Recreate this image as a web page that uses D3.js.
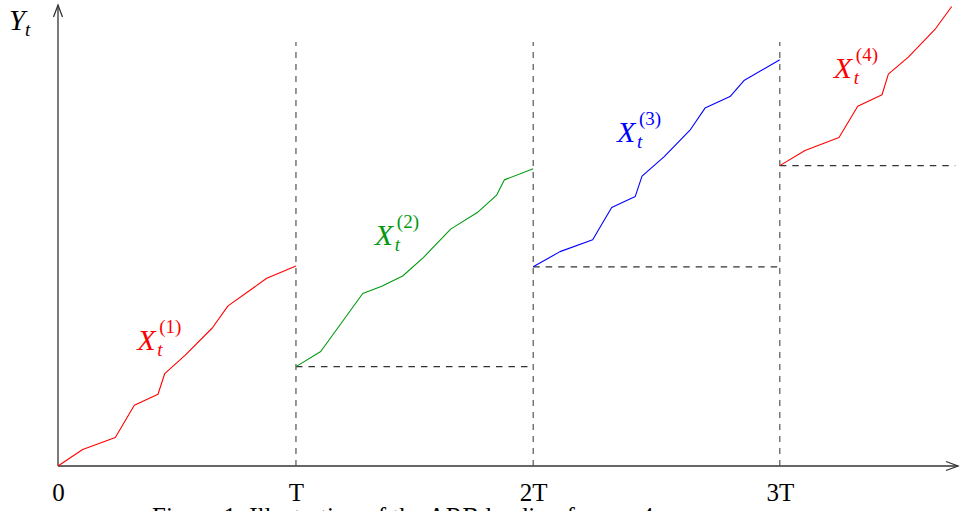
<!DOCTYPE html>
<html>
<head>
<meta charset="utf-8">
<script src="https://cdn.jsdelivr.net/npm/d3@7"></script>
<style>
  html, body { margin: 0; padding: 0; background: #fff; }
  svg { display: block; }
</style>
</head>
<body>
<svg id="chart" width="961" height="511"></svg>
<script>
// Period boundaries on the time axis and their labels
const tickTimes = [0, 26.44, 52.8, 80.2];
const tickLabels = ["0", "T", "2T", "3T"];

// Four successive sample paths, one per period
const t1 = [0, 2.74, 6.37, 8.48, 11.11, 11.86, 14.14, 17.14, 18.89, 23.19, 26.44];
const y1 = [0, 3.6, 6.2, 13.2, 15.6, 20.1, 24.1, 30.0, 34.8, 40.8, 43.5];

const t2 = [26.44, 29.19, 33.86, 35.97, 38.30, 40.59, 43.63, 46.59, 48.74, 49.59, 52.8];
const y2 = [21.6, 24.9, 37.5, 39.1, 41.3, 45.3, 51.5, 55.1, 58.9, 62.2, 64.6];

const t3 = [52.8, 55.78, 59.41, 61.52, 64.14, 64.89, 67.33, 70.22, 71.89, 74.67, 76.22, 80.2];
const y3 = [43.3, 46.6, 49.2, 56.2, 58.6, 63.0, 67.2, 73.0, 77.8, 80.3, 83.8, 88.3];

const t4 = [80.2, 83.0, 86.78, 88.86, 91.56, 92.26, 94.48, 97.52, 99.3];
const y4 = [65.3, 68.6, 71.4, 78.2, 80.7, 85.2, 88.9, 95.1, 99.9];

const seriesNames = ["(1)", "(2)", "(3)", "(4)"];
const seriesColors = ["#ff0000", "#00990f", "#0000ff", "#ff0000"];
// where each X_t^(k) label sits, in data units (time, level)
const labelTimes = [8.8, 35.2, 62.1, 86.2];
const labelLevels = [25.2, 48.0, 70.4, 84.3];

// Levels the dashed guides are drawn at, and how far they run
const guideStart = [26.44, 52.8, 80.2];
const guideEnd = [52.8, 80.2, 99.7];
const guideLevel = [21.6, 43.3, 65.3];
const guideTop = 92.2;

const svg = d3.select("#chart");
const x = d3.scaleLinear().domain([0, 100]).range([58, 958]);
const y = d3.scaleLinear().domain([0, 100]).range([466, 6]);

const serif = "'Liberation Serif', 'Times New Roman', serif";
const axisColor = "#333";

// x axis: no ticks, only labels
const xAxis = d3.axisBottom(x)
  .tickValues(tickTimes)
  .tickSize(0)
  .tickPadding(17)
  .tickFormat((d, i) => tickLabels[i]);
const gx = svg.append("g").attr("transform", `translate(0,${y(0)})`).call(xAxis);
gx.select(".domain").remove();
gx.selectAll("text")
  .attr("font-family", serif)
  .attr("font-size", 25)
  .attr("fill", "#000")
  .attr("dy", "0.71em");

// axis lines with open arrowheads
svg.append("line")
  .attr("x1", x(0)).attr("y1", y(0))
  .attr("x2", x(100)).attr("y2", y(0))
  .attr("stroke", axisColor).attr("stroke-width", 1.3);
svg.append("path")
  .attr("d", `M${x(100) - 12},${y(0) - 4.5} L${x(100)},${y(0)} L${x(100) - 12},${y(0) + 4.5}`)
  .attr("fill", "none").attr("stroke", axisColor).attr("stroke-width", 1.3);

svg.append("line")
  .attr("x1", x(0)).attr("y1", y(0))
  .attr("x2", x(0)).attr("y2", y(100) - 1)
  .attr("stroke", axisColor).attr("stroke-width", 1.3);
svg.append("path")
  .attr("d", `M${x(0) - 4.5},${y(100) + 11} L${x(0)},${y(100) - 1} L${x(0) + 4.5},${y(100) + 11}`)
  .attr("fill", "none").attr("stroke", axisColor).attr("stroke-width", 1.3);

// Y_t axis title
const yTitle = svg.append("g").attr("fill", "#000").attr("font-family", serif).attr("font-style", "italic");
yTitle.append("text").attr("x", 9).attr("y", 30).attr("font-size", 29).text("Y");
yTitle.append("text").attr("x", 25).attr("y", 36).attr("font-size", 19).text("t");

// vertical dashed lines at each period boundary
svg.append("g").selectAll("line")
  .data(tickTimes.slice(1))
  .join("line")
  .attr("x1", d => x(d)).attr("x2", d => x(d))
  .attr("y1", y(0)).attr("y2", y(guideTop))
  .attr("stroke", "#555").attr("stroke-width", 1.2)
  .attr("stroke-dasharray", "6,6");

// horizontal dashed lines at each restart level
svg.append("g").selectAll("line")
  .data(guideLevel)
  .join("line")
  .attr("x1", (d, i) => x(guideStart[i])).attr("x2", (d, i) => x(guideEnd[i]))
  .attr("y1", d => y(d)).attr("y2", d => y(d))
  .attr("stroke", "#333").attr("stroke-width", 1.2)
  .attr("stroke-dasharray", "6.5,6");

// sample paths
const paths = [[t1, y1], [t2, y2], [t3, y3], [t4, y4]];
const line = d3.line().x(d => x(d[0])).y(d => y(d[1]));
svg.append("g").selectAll("path")
  .data(paths)
  .join("path")
  .attr("d", d => line(d3.zip(d[0], d[1])))
  .attr("fill", "none")
  .attr("stroke", (d, i) => seriesColors[i])
  .attr("stroke-width", 1.1)
  .attr("stroke-linejoin", "round");

// X_t^(k) labels
const labels = svg.append("g").selectAll("g")
  .data(seriesNames)
  .join("g")
  .attr("transform", (d, i) => `translate(${x(labelTimes[i])},${y(labelLevels[i])})`)
  .attr("fill", (d, i) => seriesColors[i])
  .attr("font-family", serif);
labels.append("text").attr("font-size", 30).attr("font-style", "italic").text("X");
labels.append("text").attr("x", 20).attr("y", 6).attr("font-size", 19).attr("font-style", "italic").text("t");
labels.append("text").attr("x", 22).attr("y", -17).attr("font-size", 19).text(d => d);

// figure caption, running past the bottom edge
svg.append("text")
  .attr("x", 152).attr("y", 525)
  .attr("font-family", serif).attr("font-size", 25).attr("fill", "#000")
  .text("Figure 1: Illustration of the ARB lending for n = 4.");
</script>
</body>
</html>
